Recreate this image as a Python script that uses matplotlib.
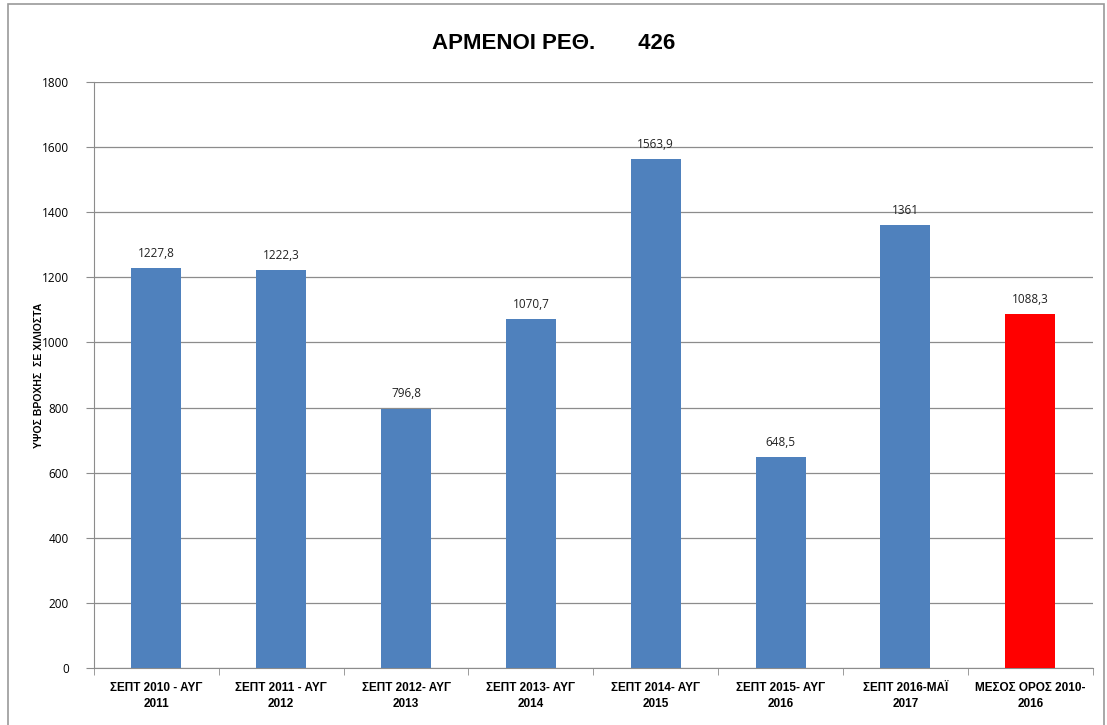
import numpy as np
import matplotlib
matplotlib.use("Agg")
import matplotlib.pyplot as plt
from matplotlib.patches import Rectangle

# Data
categories = ["ΣΕΠΤ 2010 - ΑΥΓ\n2011", "ΣΕΠΤ 2011 - ΑΥΓ\n2012", "ΣΕΠΤ 2012- ΑΥΓ\n2013",
              "ΣΕΠΤ 2013- ΑΥΓ\n2014", "ΣΕΠΤ 2014- ΑΥΓ\n2015", "ΣΕΠΤ 2015- ΑΥΓ\n2016",
              "ΣΕΠΤ 2016-ΜΑΪ\n2017", "ΜΕΣΟΣ ΟΡΟΣ 2010-\n2016"]
values = [1227.8, 1222.3, 796.8, 1070.7, 1563.9, 648.5, 1361, 1088.3]
labels = ["1227,8", "1222,3", "796,8", "1070,7", "1563,9", "648,5", "1361", "1088,3"]
colors = ["#4F81BD"] * 7 + ["#FF0000"]

plt.rcParams['font.family'] = ['Open Sans', 'DejaVu Sans']
bold_font = ['Liberation Sans', 'DejaVu Sans']

fig = plt.figure(figsize=(11.07, 7.25), dpi=100)
ax = fig.add_axes([0.0849, 0.0786, 0.9021, 0.8084])

x = np.arange(len(values))
ax.bar(x, values, width=0.4, color=colors, zorder=3)
for xi, v, lab in zip(x, values, labels):
    ax.text(xi, v + 25, lab, ha='center', va='bottom', fontsize=8.5, color='#222222')

ax.set_xlim(-0.5, len(values) - 0.5)
ax.set_ylim(0, 1800)
ax.set_yticks(np.arange(0, 1801, 200))
ax.yaxis.grid(True, color='#8C8C8C', linewidth=0.9, zorder=0)
ax.set_xticks(x)
ax.set_xticklabels(categories, fontsize=8.5, fontweight='bold', family=bold_font,
                   linespacing=1.4)
ax.set_xticks(np.arange(-0.5, len(values), 1), minor=True)
ax.tick_params(axis='x', which='major', length=0, pad=10)
ax.tick_params(axis='x', which='minor', length=5, color='#8C8C8C')
ax.tick_params(axis='y', length=6, color='#8C8C8C', labelsize=8.5, pad=12)

for s in ['top', 'right']:
    ax.spines[s].set_visible(False)
for s in ['left', 'bottom']:
    ax.spines[s].set_color('#8C8C8C')

ax.set_ylabel("ΥΨΟΣ ΒΡΟΧΗΣ  ΣΕ ΧΙΛΙΟΣΤΑ", fontsize=7.5, fontweight='bold', family=bold_font)
ax.yaxis.set_label_coords(-0.05, 0.5)
fig.text(0.5, 0.94, "ΑΡΜΕΝΟΙ ΡΕΘ.       426", ha='center', va='center',
         fontsize=16, fontweight='bold', family=bold_font)

fig.patches.append(Rectangle((0.007, -0.01), 0.99, 1.005, transform=fig.transFigure,
                             fill=False, edgecolor='#9A9A9A', linewidth=1.2))

fig.savefig("out.png", dpi=100)
